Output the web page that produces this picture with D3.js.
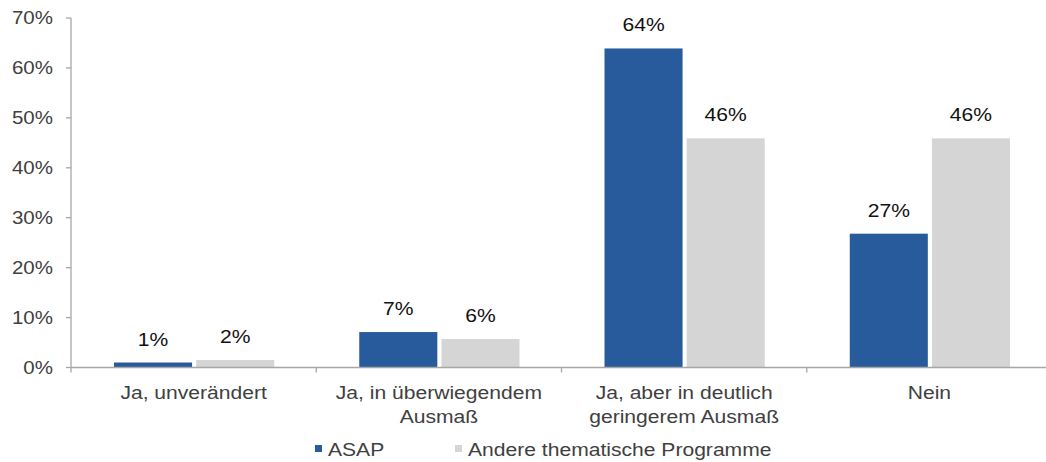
<!DOCTYPE html>
<html lang="de">
<head>
<meta charset="UTF-8">
<script src="https://d3js.org/d3.v7.min.js"></script>
<style>
  body { margin: 0; background: #fff; }
  text { font-family: "Liberation Sans", Arial, sans-serif; }
</style>
</head>
<body>
<svg></svg>
<script>
  const categories = ['Ja, unverändert', 'Ja, in überwiegendem\nAusmaß', 'Ja, aber in deutlich\ngeringerem Ausmaß', 'Nein'];
  const series = ['ASAP', 'Andere thematische Programme'];
  const asap = [0.010, 0.071, 0.639, 0.268];
  const andere = [0.015, 0.057, 0.459, 0.459];
  const yTicks = [0, 0.1, 0.2, 0.3, 0.4, 0.5, 0.6, 0.7];
  const colors = ['#285B9B', '#D5D5D5'];

  const W = 1046, H = 462;
  const sx = 1.14; // text looks horizontally stretched in the original
  const svg = d3.select('svg').attr('width', W).attr('height', H);

  const x0 = d3.scaleBand().domain(categories).range([71, 1052]);
  const bw = x0.bandwidth();
  const x1 = d3.scaleBand().domain(series).range([43, bw - 42]).paddingInner(0.05);
  const y = d3.scaleLinear().domain([0, 0.7]).range([367.5, 18]);
  const fmt = v => Math.round(v * 100) + '%';

  const data = categories.map((c, i) => ({ cat: c, vals: [asap[i], andere[i]] }));

  // axes
  const axisColor = '#a6a6a6';
  svg.append('line').attr('x1', 71).attr('x2', 71).attr('y1', y(0.7)).attr('y2', y(0))
    .attr('stroke', axisColor).attr('stroke-width', 1.3);
  svg.selectAll('.ytick').data(yTicks).enter().append('line')
    .attr('x1', 66).attr('x2', 71).attr('y1', d => y(d)).attr('y2', d => y(d))
    .attr('stroke', axisColor).attr('stroke-width', 1.3);
  svg.selectAll('.ylab').data(yTicks).enter().append('text')
    .attr('transform', d => `translate(53,${y(d)}) scale(${sx},1)`)
    .attr('dy', '0.36em').attr('text-anchor', 'end')
    .attr('font-size', 18).attr('fill', '#404040')
    .text(fmt);

  // bars
  const g = svg.selectAll('.grp').data(data).enter().append('g')
    .attr('transform', d => `translate(${x0(d.cat)},0)`);
  g.selectAll('rect').data(d => d.vals.map((v, j) => ({ s: series[j], v, j }))).enter().append('rect')
    .attr('x', d => x1(d.s)).attr('width', x1.bandwidth())
    .attr('y', d => y(d.v)).attr('height', d => y(0) - y(d.v))
    .attr('fill', d => colors[d.j]);
  g.selectAll('.val').data(d => d.vals.map((v, j) => ({ s: series[j], v, j }))).enter().append('text')
    .attr('transform', d => `translate(${x1(d.s) + x1.bandwidth() / 2},${y(d.v) - 17}) scale(${sx},1)`)
    .attr('text-anchor', 'middle').attr('font-size', 18.5).attr('fill', '#111')
    .text(d => fmt(d.v));

  // x axis
  svg.append('line').attr('x1', 71).attr('x2', 1050).attr('y1', y(0)).attr('y2', y(0))
    .attr('stroke', axisColor).attr('stroke-width', 1.3);
  svg.selectAll('.xtick').data([71].concat(categories.map(c => x0(c) + bw).slice(0, 3))).enter().append('line')
    .attr('x1', d => d).attr('x2', d => d).attr('y1', y(0)).attr('y2', y(0) + 5)
    .attr('stroke', axisColor).attr('stroke-width', 1.3);
  categories.forEach(c => {
    c.split('\n').forEach((line, k) => {
      svg.append('text')
        .attr('transform', `translate(${x0(c) + bw / 2},${399 + k * 24}) scale(${sx},1)`)
        .attr('text-anchor', 'middle').attr('font-size', 18.5).attr('fill', '#404040')
        .text(line);
    });
  });

  // legend
  const legX = [315, 455];
  series.forEach((s, j) => {
    svg.append('rect').attr('x', legX[j]).attr('y', 445).attr('width', 7).attr('height', 7)
      .attr('fill', colors[j]);
    svg.append('text')
      .attr('transform', `translate(${legX[j] + 13},455.5) scale(${sx},1)`)
      .attr('font-size', 18.5).attr('fill', '#404040')
      .text(s);
  });
</script>
</body>
</html>
